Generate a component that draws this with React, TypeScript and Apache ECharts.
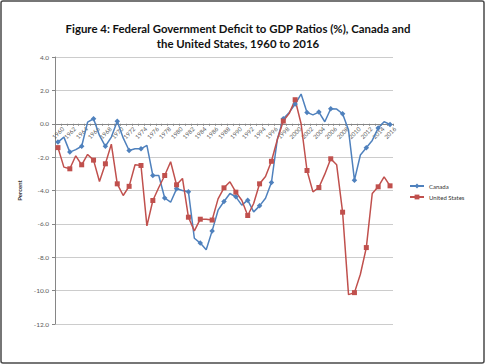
import React, { useEffect, useRef } from "react";
import * as echarts from "echarts";

const years = [
  "1960", "1961", "1962", "1963", "1964", "1965", "1966", "1967", "1968", "1969",
  "1970", "1971", "1972", "1973", "1974", "1975", "1976", "1977", "1978", "1979",
  "1980", "1981", "1982", "1983", "1984", "1985", "1986", "1987", "1988", "1989",
  "1990", "1991", "1992", "1993", "1994", "1995", "1996", "1997", "1998", "1999",
  "2000", "2001", "2002", "2003", "2004", "2005", "2006", "2007", "2008", "2009",
  "2010", "2011", "2012", "2013", "2014", "2015", "2016",
];

const canada = [
  -1.1, -0.8, -1.7, -1.55, -1.35, 0.1, 0.3, -0.7, -1.35, -0.8,
  0.15, -0.85, -1.6, -1.5, -1.5, -1.3, -3.1, -3.1, -4.45, -4.7,
  -3.9, -4.0, -4.07, -6.86, -7.15, -7.55, -6.42, -5.18, -4.66, -4.18,
  -4.38, -4.88, -4.58, -5.28, -4.92, -4.46, -3.52, -0.92, 0.3, 0.68,
  1.18, 1.78, 0.68, 0.53, 0.7, 0.12, 0.9, 0.88, 0.6, -0.38,
  -3.38, -1.87, -1.44, -1.0, -0.26, 0.12, -0.04,
];

const unitedStates = [
  -1.43, -2.6, -2.7, -1.92, -2.46, -1.84, -2.18, -3.46, -2.4, -1.22,
  -3.6, -4.3, -3.75, -2.46, -2.5, -6.12, -4.6, -3.82, -3.1, -2.28,
  -3.66, -3.28, -5.6, -6.42, -5.72, -5.72, -5.77, -4.5, -3.84, -3.48,
  -4.1, -4.58, -5.5, -4.78, -3.6, -3.16, -2.25, -0.94, 0.16, 0.62,
  1.44, 0.0, -2.8, -4.08, -3.82, -3.02, -2.1, -2.46, -5.3, -10.24,
  -10.12, -9.02, -7.42, -4.18, -3.78, -3.18, -3.72,
];

const yMin = -12;
const yMax = 4;
const yStep = 2;

const titleText =
  "Figure 4: Federal Government Deficit to GDP Ratios (%), Canada and\nthe United States, 1960 to 2016";

const FONT = "Lato, 'Liberation Sans', sans-serif";

const GRID_TOP = 57;
const GRID_BOTTOM = 40;
const CHART_H = 364;

export default function App() {
  const ref = useRef<HTMLDivElement>(null);

  useEffect(() => {
    document.body.style.margin = "0";
    const chart = echarts.init(ref.current!, undefined, { renderer: "svg" });
    const plotH = CHART_H - GRID_TOP - GRID_BOTTOM;
    const zeroFromBottom = (plotH * (0 - yMin)) / (yMax - yMin);
    chart.setOption({
      animation: false,
      backgroundColor: "#ffffff",
      textStyle: { fontFamily: FONT },
      graphic: [
        {
          type: "rect",
          shape: { x: 1, y: 1, width: 483, height: 362, r: 2 },
          style: { fill: "none", stroke: "#4a4a4a", lineWidth: 1.5 },
          silent: true,
        },
        {
          type: "text",
          x: 238,
          y: 21,
          style: {
            text: titleText,
            textAlign: "center",
            textVerticalAlign: "top",
            fontFamily: FONT,
            fontSize: 11.4,
            fontWeight: "bold",
            lineHeight: 15,
            fill: "#111111",
          },
        },
      ],
      legend: {
        data: ["Canada", "United States"],
        orient: "vertical",
        left: 404,
        top: 178,
        itemWidth: 14,
        itemHeight: 6,
        itemGap: 5,
        textStyle: { fontSize: 6, color: "#333333", fontFamily: FONT },
      },
      grid: { left: 55, right: 92, top: GRID_TOP, bottom: GRID_BOTTOM, containLabel: false },
      xAxis: {
        type: "category",
        data: years,
        boundaryGap: true,
        position: "bottom",
        offset: -zeroFromBottom,
        axisLine: { onZero: false, lineStyle: { color: "#868686", width: 1 } },
        axisTick: { show: true, interval: 0, length: 2, lineStyle: { color: "#868686" } },
        axisLabel: {
          interval: 1,
          rotate: 45,
          align: "center",
          verticalAlign: "middle",
          margin: 9,
          fontSize: 6,
          color: "#595959",
          fontFamily: FONT,
        },
        splitLine: { show: false },
      },
      yAxis: {
        type: "value",
        min: yMin,
        max: yMax,
        interval: yStep,
        axisLine: { show: true, onZero: false, lineStyle: { color: "#868686", width: 1 } },
        axisTick: { show: true, length: 3, lineStyle: { color: "#868686" } },
        axisLabel: {
          formatter: (v: number) => v.toFixed(1),
          fontSize: 6.5,
          color: "#595959",
          margin: 6,
          fontFamily: FONT,
        },
        splitLine: { lineStyle: { color: "#cccccc", width: 1 } },
        name: "Percent",
        nameLocation: "middle",
        nameGap: 27,
        nameRotate: 90,
        nameTextStyle: { fontSize: 6, fontWeight: "bold", color: "#333333", fontFamily: FONT },
      },
      series: [
        {
          name: "Canada",
          type: "line",
          data: canada,
          symbol: "diamond",
          symbolSize: 5.5,
          lineStyle: { color: "#4f81bd", width: 1.5 },
          itemStyle: { color: "#4f81bd" },
        },
        {
          name: "United States",
          type: "line",
          data: unitedStates,
          symbol: "rect",
          symbolSize: 5,
          lineStyle: { color: "#c0504d", width: 1.5 },
          itemStyle: { color: "#c0504d" },
        },
      ],
    });
    return () => chart.dispose();
  }, []);

  return <div ref={ref} style={{ width: 485, height: 364 }} />;
}
